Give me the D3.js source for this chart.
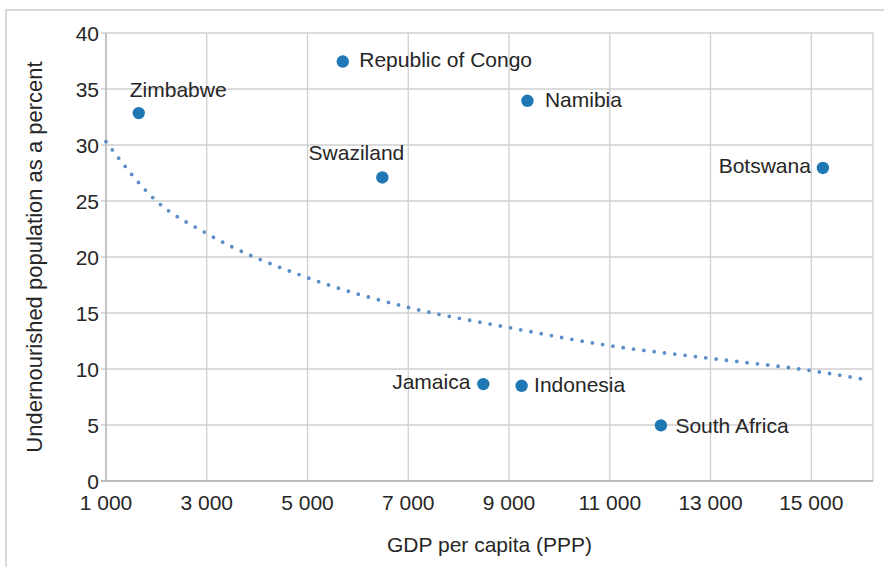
<!DOCTYPE html>
<meta charset="utf-8">
<title>Undernourishment vs GDP</title>
<style>
  body { margin: 0; background: #fff; }
  text { font-family: "Liberation Sans", Arial, sans-serif; fill: #262626; }
</style>
<body>
<script src="https://d3js.org/d3.v7.min.js"></script>
<script>

var width = 884;
var height = 567;

// countries and their values
var countries = ["Zimbabwe", "Republic of Congo", "Namibia", "Swaziland", "Botswana", "Jamaica", "Indonesia", "South Africa"];
var gdp = [1650, 5700, 9365, 6485, 15230, 8490, 9250, 12015];
var undernourished = [32.85, 37.45, 33.95, 27.1, 27.95, 8.65, 8.5, 4.97];

// dotted trend line
var trendGdp = [1000, 2000, 3000, 5000, 7000, 9000, 11000, 13000, 15000, 16050];
var trendValue = [30.3, 25.0, 22.1, 18.15, 15.5, 13.7, 12.08, 10.95, 9.85, 9.08];

var xTicks = [1000, 3000, 5000, 7000, 9000, 11000, 13000, 15000];
var yTicks = [0, 5, 10, 15, 20, 25, 30, 35, 40];

// where each label sits relative to its dot
var labelPlace = {
  "Zimbabwe":          { anchor: "start", dx: -9,  dy: -16.5 },
  "Republic of Congo": { anchor: "start", dx: 16.5, dy: 5.8 },
  "Namibia":           { anchor: "start", dx: 17.5, dy: 6.5 },
  "Swaziland":         { anchor: "end",   dx: 22,  dy: -17 },
  "Botswana":          { anchor: "end",   dx: -12, dy: 5.5 },
  "Jamaica":           { anchor: "end",   dx: -13, dy: 4.5 },
  "Indonesia":         { anchor: "start", dx: 12.5, dy: 6.6 },
  "South Africa":      { anchor: "start", dx: 14.5, dy: 7.5 }
};

var margin = { left: 106, top: 33, right: 873, bottom: 481 };

var svg = d3.select("body")
  .append("svg")
  .attr("width", width)
  .attr("height", height);

// outer frame (cut off at right and bottom)
svg.append("rect")
  .attr("x", 6)
  .attr("y", 10)
  .attr("width", 1000)
  .attr("height", 1000)
  .attr("fill", "none")
  .attr("stroke", "#d9d9d9")
  .attr("stroke-width", 2);

var x = d3.scaleLinear().domain([1000, 16225]).range([margin.left, margin.right]);
var y = d3.scaleLinear().domain([0, 40]).range([margin.bottom, margin.top]);

var fmt = d3.formatLocale({ decimal: ".", thousands: " ", grouping: [3], currency: ["", ""] }).format(",d");

// grid
svg.append("g")
  .selectAll("line")
  .data(yTicks)
  .join("line")
  .attr("x1", margin.left - 5)
  .attr("x2", margin.right)
  .attr("y1", function(d) { return y(d); })
  .attr("y2", function(d) { return y(d); })
  .attr("stroke", "#cfcfcf")
  .attr("stroke-width", 1.3);

svg.append("g")
  .selectAll("line")
  .data(xTicks)
  .join("line")
  .attr("x1", function(d) { return x(d); })
  .attr("x2", function(d) { return x(d); })
  .attr("y1", margin.top)
  .attr("y2", margin.bottom)
  .attr("stroke", "#cfcfcf")
  .attr("stroke-width", 1.3);

// right border of plot
svg.append("line")
  .attr("x1", margin.right).attr("x2", margin.right)
  .attr("y1", margin.top).attr("y2", margin.bottom)
  .attr("stroke", "#cfcfcf")
  .attr("stroke-width", 1.3);

// axes lines
svg.append("line")
  .attr("x1", margin.left).attr("x2", margin.left)
  .attr("y1", margin.top).attr("y2", margin.bottom)
  .attr("stroke", "#bdbdbd")
  .attr("stroke-width", 1.6);

svg.append("line")
  .attr("x1", margin.left - 5).attr("x2", margin.right)
  .attr("y1", margin.bottom).attr("y2", margin.bottom)
  .attr("stroke", "#bdbdbd")
  .attr("stroke-width", 2);

// tick labels
svg.append("g")
  .selectAll("text")
  .data(yTicks)
  .join("text")
  .attr("x", margin.left - 7)
  .attr("y", function(d) { return y(d); })
  .attr("dy", ".36em")
  .attr("text-anchor", "end")
  .style("font-size", "21px")
  .text(function(d) { return d; });

svg.append("g")
  .selectAll("text")
  .data(xTicks)
  .join("text")
  .attr("x", function(d) { return x(d); })
  .attr("y", 510)
  .attr("text-anchor", "middle")
  .style("font-size", "21px")
  .text(function(d) { return fmt(d); });

// axis titles
svg.append("text")
  .attr("x", (margin.left + margin.right) / 2)
  .attr("y", 552)
  .attr("text-anchor", "middle")
  .style("font-size", "21px")
  .text("GDP per capita (PPP)");

svg.append("text")
  .attr("transform", "translate(42," + ((margin.top + margin.bottom) / 2) + ") rotate(-90)")
  .attr("text-anchor", "middle")
  .style("font-size", "22px")
  .text("Undernourished population as a percent");

// trend line
var trend = trendGdp.map(function(d, i) { return [d, trendValue[i]]; });
svg.append("path")
  .datum(trend)
  .attr("fill", "none")
  .attr("stroke", "#5b8dc6")
  .attr("stroke-width", 3.8)
  .attr("stroke-linecap", "round")
  .attr("stroke-dasharray", "0 10.4")
  .attr("d", d3.line()
    .x(function(d) { return x(d[0]); })
    .y(function(d) { return y(d[1]); })
    .curve(d3.curveMonotoneX));

// points
var points = countries.map(function(c, i) { return { name: c, gdp: gdp[i], value: undernourished[i] }; });

svg.append("g")
  .selectAll("circle")
  .data(points)
  .join("circle")
  .attr("cx", function(d) { return x(d.gdp); })
  .attr("cy", function(d) { return y(d.value); })
  .attr("r", 6.2)
  .attr("fill", "#1f77b4");

svg.append("g")
  .selectAll("text")
  .data(points)
  .join("text")
  .attr("x", function(d) { return x(d.gdp) + labelPlace[d.name].dx; })
  .attr("y", function(d) { return y(d.value) + labelPlace[d.name].dy; })
  .attr("text-anchor", function(d) { return labelPlace[d.name].anchor; })
  .style("font-size", "21px")
  .text(function(d) { return d.name; });

</script>
